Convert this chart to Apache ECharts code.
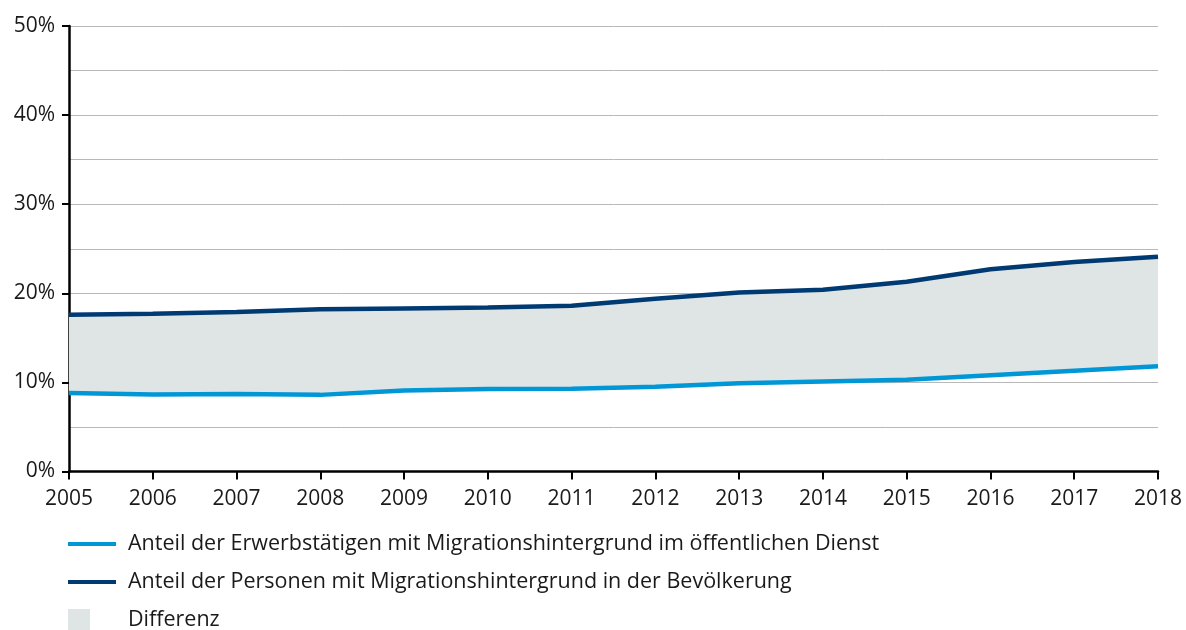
<!DOCTYPE html>
<html>
<head>
<meta charset="utf-8">
<script src="https://cdn.jsdelivr.net/npm/echarts@6/dist/echarts.min.js"></script>
<style>
  html, body { margin: 0; padding: 0; background: #fff; }
  #chart { width: 1186px; height: 630px; }
</style>
</head>
<body>
<div id="chart"></div>
<script>
// Daten
var years = ['2005', '2006', '2007', '2008', '2009', '2010', '2011', '2012', '2013', '2014', '2015', '2016', '2017', '2018'];
// Anteil der Erwerbstätigen mit Migrationshintergrund im öffentlichen Dienst (%)
var oeffentlicherDienst = [8.8, 8.65, 8.7, 8.6, 9.1, 9.25, 9.3, 9.5, 9.9, 10.1, 10.3, 10.8, 11.3, 11.8];
// Anteil der Personen mit Migrationshintergrund in der Bevölkerung (%)
var bevoelkerung = [17.6, 17.7, 17.9, 18.2, 18.3, 18.4, 18.6, 19.4, 20.1, 20.4, 21.3, 22.7, 23.5, 24.1];

var nameDienst = 'Anteil der Erwerbstätigen mit Migrationshintergrund im öffentlichen Dienst';
var nameBev = 'Anteil der Personen mit Migrationshintergrund in der Bevölkerung';

// Differenz für die Fläche zwischen den Linien
var differenz = bevoelkerung.map(function (v, i) {
  return +(v - oeffentlicherDienst[i]).toFixed(2);
});

var font = 'Open Sans';
var lineIcon = 'path://M0,0h48v4h-48z';
var chart = echarts.init(document.getElementById('chart'));

chart.setOption({
  animation: false,
  textStyle: { fontFamily: font },
  grid: { left: 69, right: 28, top: 26, bottom: 158.5, containLabel: false },
  legend: [{
    orient: 'vertical',
    left: 68,
    top: 533,
    padding: 0,
    itemWidth: 48,
    itemHeight: 22,
    itemGap: 16,
    textStyle: { fontSize: 21.5, color: '#1a1a1a', fontFamily: font, padding: [0, 0, 0, 7] },
    data: [{ name: nameDienst, icon: lineIcon }, { name: nameBev, icon: lineIcon }]
  }, {
    orient: 'vertical',
    left: 68,
    top: 609,
    padding: 0,
    itemWidth: 22,
    itemHeight: 22,
    textStyle: { fontSize: 21.5, color: '#1a1a1a', fontFamily: font, padding: [0, 0, 0, 33] },
    data: [{ name: 'Differenz', icon: 'rect' }]
  }],
  xAxis: {
    type: 'category',
    data: years,
    boundaryGap: false,
    axisLine: { lineStyle: { color: '#000', width: 2.5 } },
    axisTick: { show: true, length: 8, lineStyle: { color: '#000', width: 2 } },
    axisLabel: { fontSize: 21, color: '#1a1a1a', margin: 17, fontFamily: font },
    splitLine: { show: false }
  },
  yAxis: {
    type: 'value',
    min: 0,
    max: 50,
    interval: 10,
    axisLine: { show: true, lineStyle: { color: '#000', width: 2.5 } },
    axisTick: { show: true, length: 7, lineStyle: { color: '#000', width: 2 } },
    axisLabel: { fontSize: 21, color: '#1a1a1a', margin: 14, fontFamily: font, formatter: '{value}%' },
    splitLine: { show: true, lineStyle: { color: '#b8b8b8', width: 1 } },
    minorTick: { show: false, splitNumber: 2 },
    minorSplitLine: { show: true, lineStyle: { color: '#b8b8b8', width: 1 } }
  },
  series: [{
    name: 'basis',
    type: 'line',
    stack: 'diff',
    data: oeffentlicherDienst,
    symbol: 'none',
    silent: true,
    lineStyle: { width: 0, opacity: 0 },
    z: 1
  }, {
    name: 'Differenz',
    type: 'line',
    stack: 'diff',
    data: differenz,
    symbol: 'none',
    silent: true,
    itemStyle: { color: '#dfe4e5' },
    lineStyle: { width: 0, opacity: 0 },
    areaStyle: { color: '#dfe4e5', opacity: 1 },
    z: 2
  }, {
    name: nameDienst,
    type: 'line',
    data: oeffentlicherDienst,
    symbol: 'none',
    itemStyle: { color: '#0097d7' },
    lineStyle: { color: '#0097d7', width: 4.5 },
    z: 3
  }, {
    name: nameBev,
    type: 'line',
    data: bevoelkerung,
    symbol: 'none',
    itemStyle: { color: '#003a73' },
    lineStyle: { color: '#003a73', width: 4.5 },
    z: 4
  }]
});
</script>
</body>
</html>
